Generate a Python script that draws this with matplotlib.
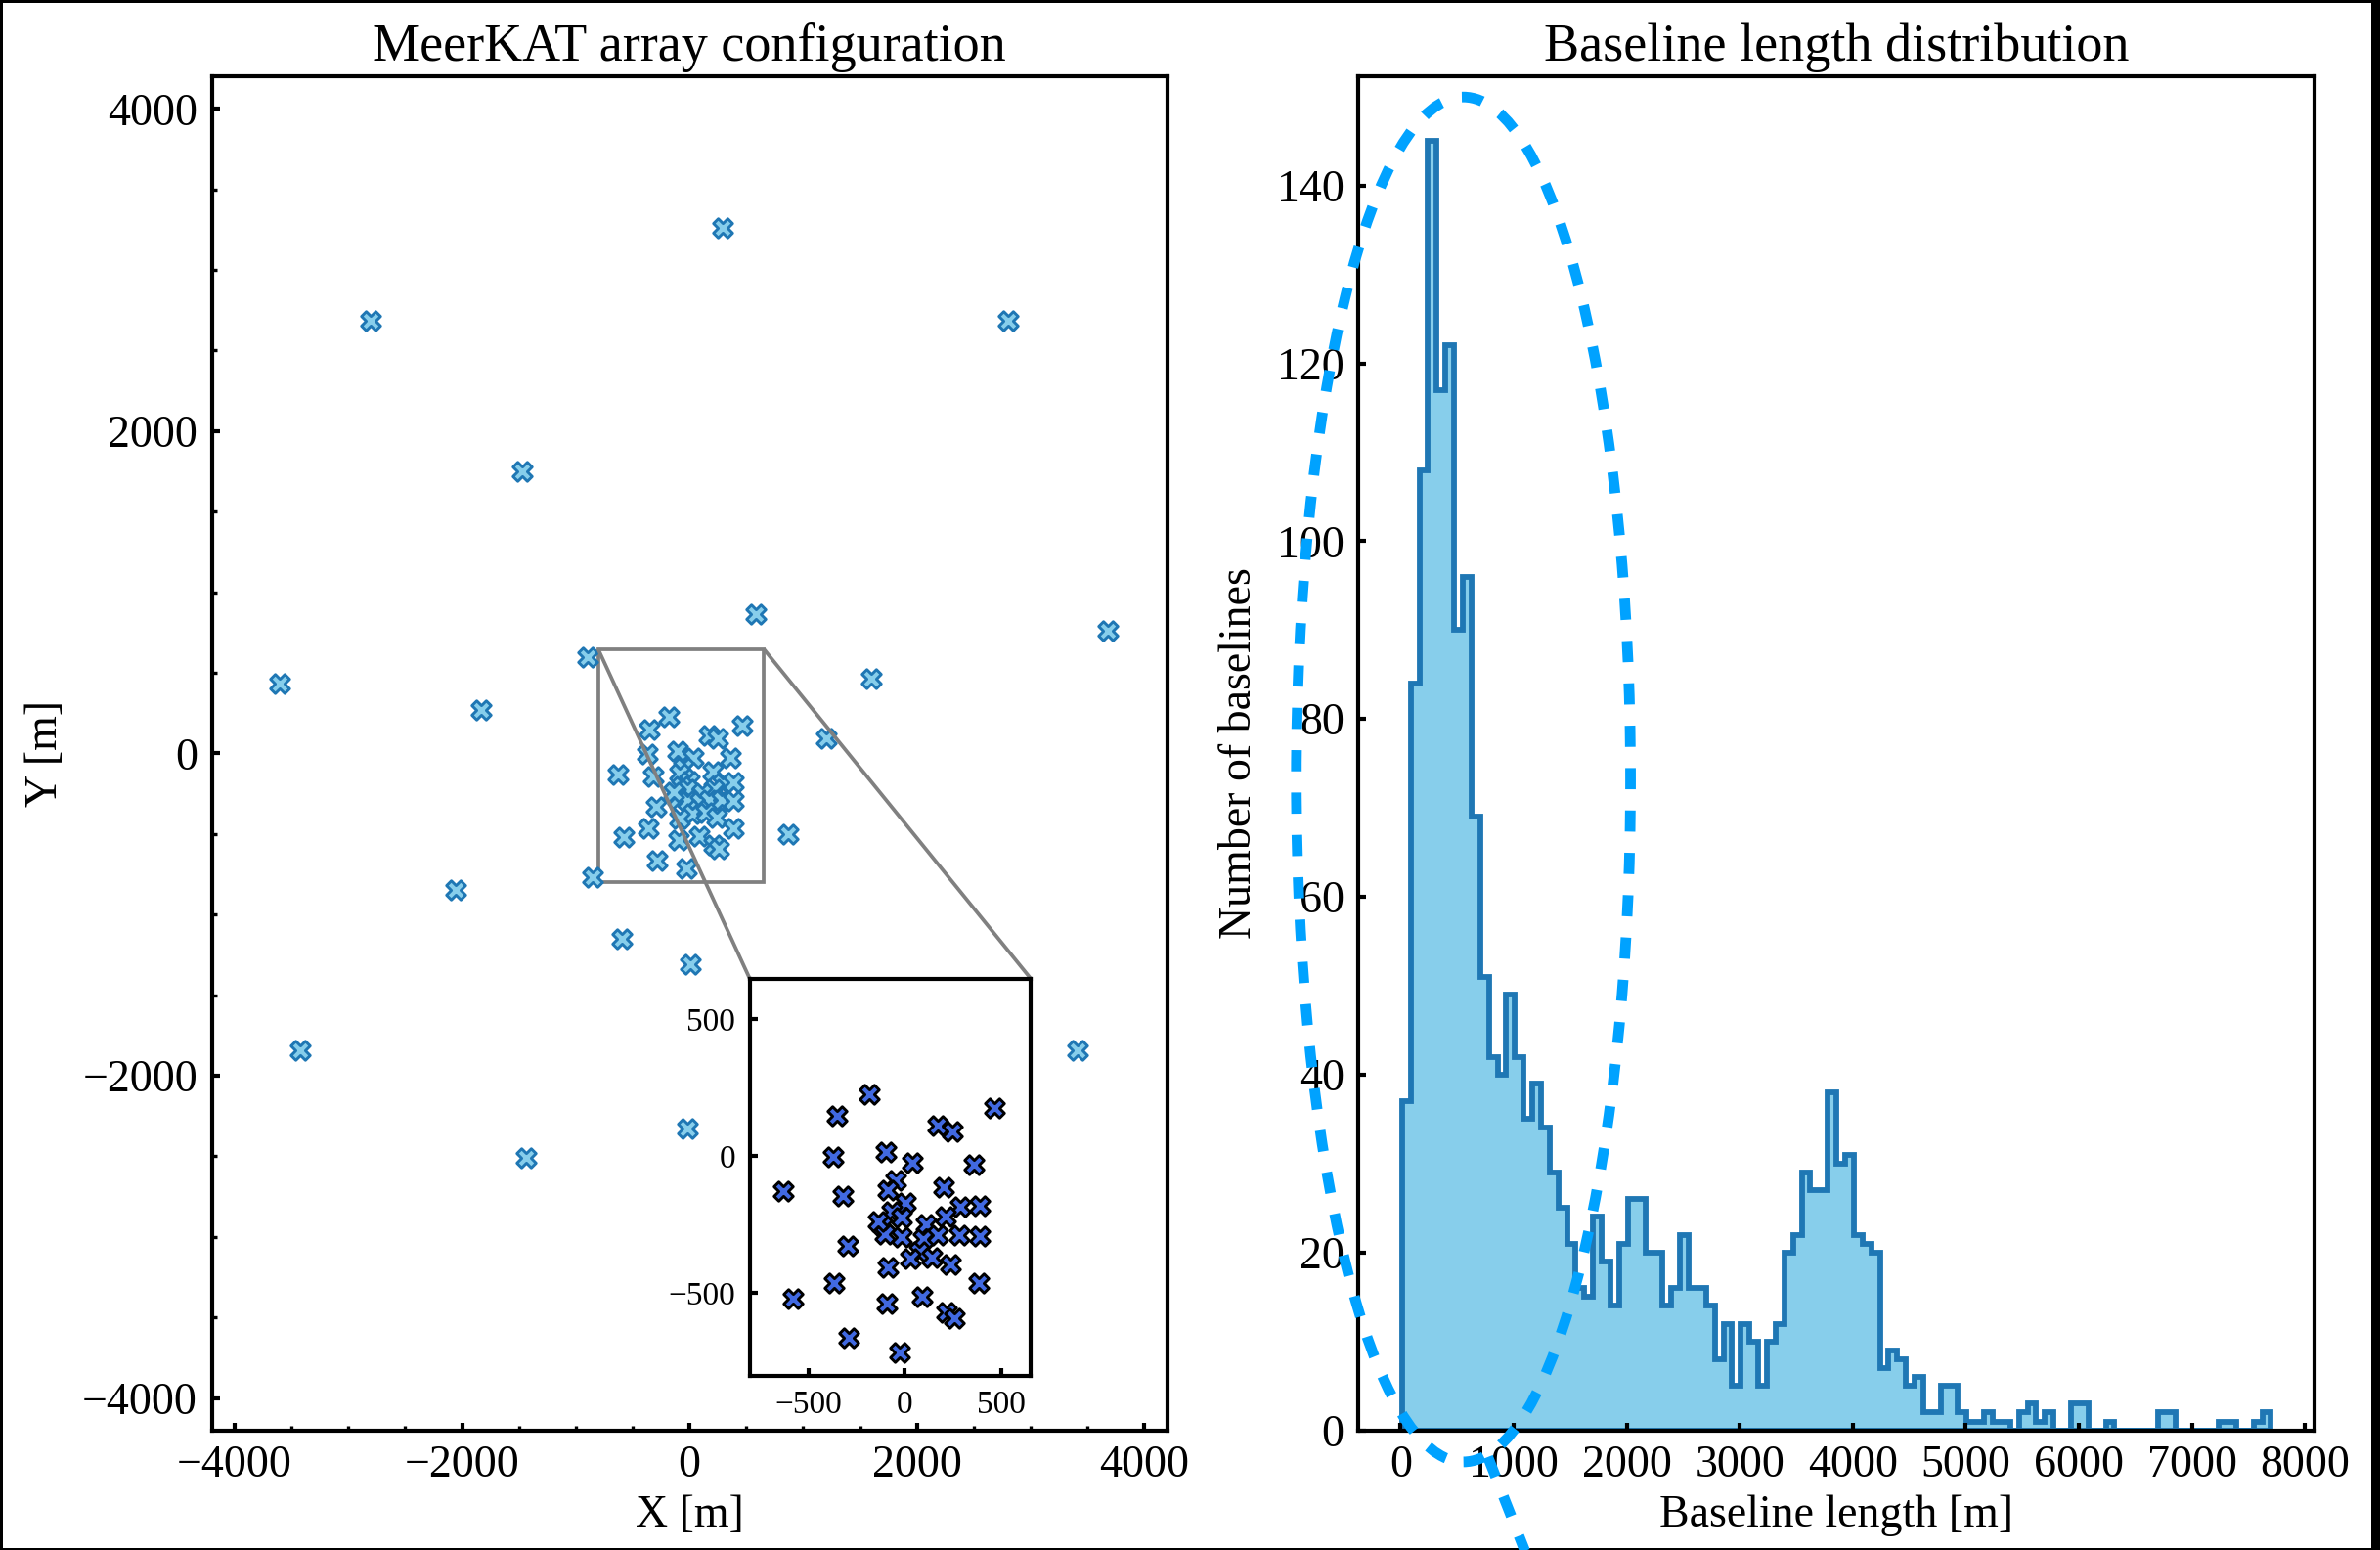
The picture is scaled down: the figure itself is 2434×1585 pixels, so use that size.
import numpy as np
import matplotlib
matplotlib.use("Agg")
import matplotlib.pyplot as plt
from matplotlib.patches import Ellipse, Rectangle
from matplotlib.ticker import MultipleLocator
from mpl_toolkits.axes_grid1.inset_locator import mark_inset

plt.rcParams['font.family'] = ['Liberation Serif', 'DejaVu Serif']
plt.rcParams['font.size'] = 11

# antenna positions [m]
ant_x = [290, -2805, 2805, -1474, 581, 3682, -898, -3605, -1835, 1594,
         1200, 866, -855, -2055, -597, 5, -3419, 3413, -16, -1441,
         -182, -351, 463, 171, 249, -100, -373, 37, 358, -632,
         -322, -49, -90, 201, 2, 289, 387, -66, -18, 213,
         -120, 108, -103, -18, 95, 172, 281, 387, -297, 74,
         27, 142, -90, 238, -365, 382, -581, 88, -95, 218,
         257, -289, -27, -140]
ant_y = [3261, 2686, 2686, 1752, 866, 760, 600, 434, 268, 467,
         92, -498, -770, -847, -1150, -1310, -1843, -1843, -2328, -2509,
         225, 148, 175, 113, 92, 14, -4, -25, -30, -129,
         -144, -87, -125, -114, -171, -186, -182, -204, -224, -221,
         -253, -248, -283, -295, -301, -289, -289, -292, -328, -349,
         -373, -370, -406, -397, -462, -462, -521, -513, -537, -569,
         -593, -662, -716, -240]

# zoomed core region
core_xlim = (-804, 652)
core_ylim = (-801, 649)

# baseline length histogram: 100 bins between shortest and longest baseline
bl_min, bl_max = 12, 7698
bl_counts = [37, 84, 108, 145, 117, 122, 90, 96, 69, 51,
             42, 40, 49, 42, 35, 39, 34, 29, 25, 21,
             16, 15, 24, 19, 14, 21, 26, 26, 20, 20,
             14, 16, 22, 16, 16, 14, 8, 12, 5, 12,
             10, 5, 10, 12, 20, 22, 29, 27, 27, 38,
             30, 31, 22, 21, 20, 7, 9, 8, 5, 6,
             2, 2, 5, 5, 2, 1, 1, 2, 1, 1,
             0, 2, 3, 1, 2, 0, 0, 3, 3, 0,
             0, 1, 0, 0, 0, 0, 0, 2, 2, 0,
             0, 0, 0, 0, 1, 1, 0, 0, 1, 2]

# highlighted short-baseline region (centre, width, height in data units)
ell_center = (556, 73.2)
ell_width, ell_height = 2956, 153.5

edges = np.linspace(bl_min, bl_max, len(bl_counts) + 1)
centers = 0.5 * (edges[:-1] + edges[1:])

fig = plt.figure(figsize=(2434 / 300, 1585 / 300), dpi=300)
ax1 = fig.add_axes([0.0890, 0.0772, 0.4014, 0.8734])
ax2 = fig.add_axes([0.5708, 0.0772, 0.4016, 0.8734])

for ax in (ax1, ax2):
    for sp in ax.spines.values():
        sp.set_linewidth(1.0)
    ax.tick_params(which='major', direction='in', length=2, width=1,
                   top=False, right=False, labelsize=11)
    ax.tick_params(which='minor', direction='in', length=1.2, width=0.8,
                   top=False, right=False)

# array layout
ax1.scatter(ant_x, ant_y, marker='X', s=22, facecolor='skyblue',
            edgecolor='#1f77b4', linewidth=0.7, zorder=3)
ax1.set_xlim(-4200, 4200)
ax1.set_ylim(-4200, 4200)
ax1.xaxis.set_major_locator(MultipleLocator(2000))
ax1.yaxis.set_major_locator(MultipleLocator(2000))
ax1.xaxis.set_minor_locator(MultipleLocator(500))
ax1.yaxis.set_minor_locator(MultipleLocator(500))
ax1.set_title('MeerKAT array configuration', fontsize=13, pad=3.8)
ax1.set_xlabel('X [m]', fontsize=11, labelpad=2)
ax1.set_ylabel('Y [m]', fontsize=11)

axins = ax1.inset_axes([0.563, 0.0405, 0.2941, 0.2933])
axins.scatter(ant_x, ant_y, marker='X', s=22, facecolor='royalblue',
              edgecolor='black', linewidth=0.7, zorder=3)
axins.set_xlim(*core_xlim)
axins.set_ylim(*core_ylim)
axins.xaxis.set_major_locator(MultipleLocator(500))
axins.yaxis.set_major_locator(MultipleLocator(500))
for sp in axins.spines.values():
    sp.set_linewidth(1.0)
axins.tick_params(direction='in', length=2, width=1, top=False, right=False,
                  labelsize=8)
mark_inset(ax1, axins, loc1=2, loc2=1, fc='none', ec='0.5', lw=0.9)

# baseline histogram
ax2.hist(centers, bins=edges, weights=bl_counts, histtype='stepfilled',
         facecolor='skyblue', edgecolor='#1f77b4', linewidth=1.4)
# freeze the autoscaled limits before adding the annotation shapes
ax2.set_xlim(ax2.get_xlim())
ax2.set_ylim(ax2.get_ylim())
ax2.xaxis.set_major_locator(MultipleLocator(1000))
ax2.yaxis.set_major_locator(MultipleLocator(20))
ax2.set_title('Baseline length distribution', fontsize=13, pad=3.8)
ax2.set_xlabel('Baseline length [m]', fontsize=11, labelpad=2)
ax2.set_ylabel('Number of baselines', fontsize=11)

ell = Ellipse(ell_center, ell_width, ell_height, fill=False,
              edgecolor='#00a2ff', linewidth=2.6, linestyle=(0, (2, 2)),
              clip_on=False, zorder=5)
ax2.add_patch(ell)
ax2.plot([772, 1144], [-3, -15], color='#00a2ff', linewidth=2.6,
         linestyle=(0, (2, 2)), clip_on=False, zorder=5)

# black frame around the figure
fig.patch.set_edgecolor('black')
fig.patch.set_linewidth(1.2)
fig.add_artist(Rectangle((2425 / 2434, 0), 9 / 2434, 1, transform=fig.transFigure,
                         facecolor='black', edgecolor='none'))

fig.savefig('out.png', dpi=300)
